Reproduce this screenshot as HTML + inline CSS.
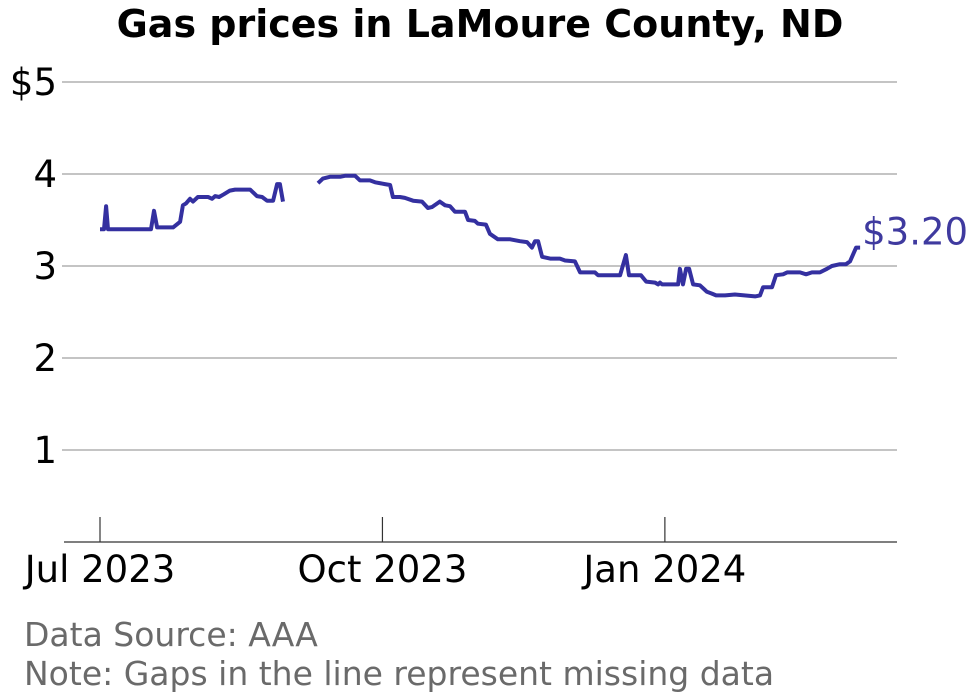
<!DOCTYPE html>
<html><head><meta charset="utf-8"><style>
body{margin:0;background:#fff}
svg{display:block;font-family:"DejaVu Sans","Liberation Sans",sans-serif}
</style></head><body>
<svg id="chart" width="980" height="699" viewBox="0 0 980 699">
<text x="480" y="37" text-anchor="middle" font-size="38" font-weight="bold">Gas prices in LaMoure County, ND</text>
<g id="grid"></g>
<g id="xaxis"></g>
<path id="line" fill="none" stroke="#3430a0" stroke-width="4" stroke-linejoin="round"></path>
<text id="endlabel" font-size="37" fill="#3f3a9f"></text>
<text x="24" y="646" font-size="33" fill="#6a6a6a">Data Source: AAA</text>
<text x="24" y="685" font-size="33" fill="#6a6a6a">Note: Gaps in the line represent missing data</text>
</svg>
<script>
// days since 2023-07-01 (null = gap)
const days = [0,1.3,2,2.6,16.6,17.6,18.6,21.5,23.8,26.1,27,28,29.3,30.3,31.9,35.2,36.5,37.5,38.8,40.4,42.3,44,48.9,51.1,52.8,54.4,56.4,57.7,58.6,59.6,null,
71.0,72.6,74.9,78.2,79.8,83.1,84.7,87.9,89.6,92.8,94.5,95.4,97.7,99.3,102.0,104.9,106.8,108.1,110.7,112.4,114.0,115.6,118.9,119.9,122.1,123.1,125.7,127.0,129.6,133.6,136.8,139.1,140.7,141.7,142.7,144.0,146.6,149.8,151.5,154.7,156.4,157.3,161.2,162.2,169.4,171.3,172.3,176.2,177.9,180.8,181.8,182.4,183.1,188.3,188.9,189.9,190.9,191.9,193.2,195.4,196.7,197.7,199.3,200.7,203.6,206.8,213.4,215.0,216.0,218.9,220.2,222.5,223.8,228.0,230.0,231.9,234.5,236.8,238.4,241.0,243.0,244.3,246.3,247.6];
const prices = [3.40,3.40,3.65,3.40,3.40,3.60,3.42,3.42,3.42,3.48,3.66,3.68,3.73,3.70,3.75,3.75,3.73,3.76,3.75,3.78,3.82,3.83,3.83,3.76,3.75,3.71,3.71,3.89,3.89,3.70,null,
3.90,3.95,3.97,3.97,3.98,3.98,3.93,3.93,3.91,3.89,3.88,3.75,3.75,3.74,3.71,3.70,3.63,3.64,3.70,3.66,3.65,3.59,3.59,3.50,3.49,3.46,3.45,3.35,3.29,3.29,3.27,3.26,3.20,3.27,3.27,3.10,3.08,3.08,3.06,3.05,2.93,2.93,2.93,2.90,2.90,3.12,2.90,2.90,2.83,2.82,2.80,2.82,2.80,2.80,2.97,2.80,2.97,2.97,2.80,2.79,2.75,2.72,2.70,2.68,2.68,2.69,2.67,2.68,2.77,2.77,2.90,2.91,2.93,2.93,2.91,2.93,2.93,2.97,3.00,3.02,3.02,3.05,3.20,3.20];
const yTicks = [1,2,3,4,5];
const yTickLabels = ["1","2","3","4","$5"];
const xTicks = [0,92,184];
const xTickLabels = ["Jul 2023","Oct 2023","Jan 2024"];
const endLabel = "$3.20";

const NS="http://www.w3.org/2000/svg";
const x = d => 100 + d*3.07;
const y = v => 542 - v*92;
const grid=document.getElementById('grid');
yTicks.forEach((t,i)=>{
  const l=document.createElementNS(NS,'line');
  l.setAttribute('x1',62);l.setAttribute('x2',897);l.setAttribute('y1',y(t));l.setAttribute('y2',y(t));
  l.setAttribute('stroke','#a0a0a0');l.setAttribute('stroke-width','1.2');
  
  
  grid.appendChild(l);
  const tx=document.createElementNS(NS,'text');
  tx.setAttribute('x',57);tx.setAttribute('y',y(t)+13);tx.setAttribute('text-anchor','end');tx.setAttribute('font-size','37');
  tx.textContent=yTickLabels[i];
  
  
  grid.appendChild(tx);
});
const xa=document.getElementById('xaxis');
const ax=document.createElementNS(NS,'line');
ax.setAttribute('x1',64);ax.setAttribute('x2',897);ax.setAttribute('y1',542);ax.setAttribute('y2',542);ax.setAttribute('stroke','#333');ax.setAttribute('stroke-width','1.2');


xa.appendChild(ax);
xTicks.forEach((d,i)=>{
  const l=document.createElementNS(NS,'line');
  l.setAttribute('x1',x(d));l.setAttribute('x2',x(d));l.setAttribute('y1',517);l.setAttribute('y2',542);l.setAttribute('stroke','#333');l.setAttribute('stroke-width','1.2');
  
  
  xa.appendChild(l);
  const tx=document.createElementNS(NS,'text');
  tx.setAttribute('x',x(d));tx.setAttribute('y',582);tx.setAttribute('text-anchor','middle');tx.setAttribute('font-size','37');
  tx.textContent=xTickLabels[i];
  
  
  xa.appendChild(tx);
});
let dstr='',pen=false,last=null;
days.forEach((d,i)=>{
  if(d===null||prices[i]===null){pen=false;return;}
  dstr+=(pen?'L':'M')+x(d).toFixed(1)+' '+y(prices[i]).toFixed(1)+' ';
  pen=true;last=i;
});
document.getElementById('line').setAttribute('d',dstr);
const el=document.getElementById('endlabel');
el.setAttribute('x',x(days[last])+2);el.setAttribute('y',y(prices[last])-3);
el.textContent=endLabel;
</script>
</body></html>
